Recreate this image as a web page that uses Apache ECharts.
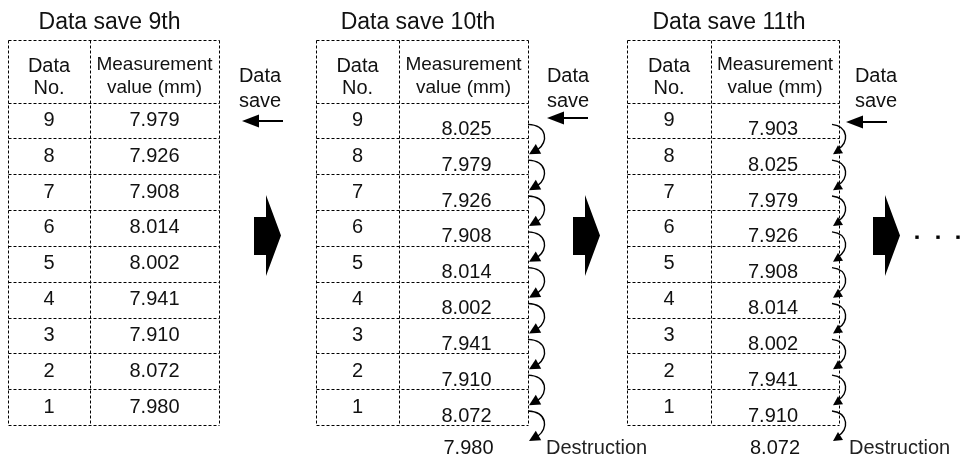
<!DOCTYPE html>
<html>
<head>
<meta charset="utf-8">
<script src="https://cdn.jsdelivr.net/npm/echarts@6/dist/echarts.min.js"></script>
<style>
  html, body { margin: 0; padding: 0; background: #fff; }
  #main { width: 963px; height: 463px; }
</style>
</head>
<body>
<div id="main"></div>
<script>
// values
const tableTitles = ['Data save 9th', 'Data save 10th', 'Data save 11th'];
const dataNos = ['9', '8', '7', '6', '5', '4', '3', '2', '1'];
const values9th = ['7.979', '7.926', '7.908', '8.014', '8.002', '7.941', '7.910', '8.072', '7.980'];
const values10th = ['8.025', '7.979', '7.926', '7.908', '8.014', '8.002', '7.941', '7.910', '8.072'];
const values11th = ['7.903', '8.025', '7.979', '7.926', '7.908', '8.014', '8.002', '7.941', '7.910'];
const destroyed = [null, '7.980', '8.072'];
const headerNo = ['Data', 'No.'];
const headerValue = ['Measurement', 'value (mm)'];
const saveLabel = ['Data', 'save'];
const destroyLabel = 'Destruction';

const FONT = '"Liberation Sans", Arial, Helvetica, sans-serif';
const INK = '#111';
const HEAD_H = 62.5;

const tables = [
    {left: 8, width: 211, split: 82, values: values9th, valDx: 0, valDy: 0, arcs: null,
        saveX: 260, arrow: [242, 283, 121], destDx: 0},
    {left: 316, width: 212, split: 83, values: values10th, valDx: 3, valDy: 9, arcs: 'wide',
        saveX: 568, arrow: [547, 588, 118], destDx: 18},
    {left: 627, width: 212, split: 84, values: values11th, valDx: -2, valDy: 9, arcs: 'narrow',
        saveX: 876, arrow: [846, 887, 122], destDx: 10}
];
const blockArrowX = [254, 573, 873];

const px = v => Math.round(v) + 0.5;

function dashLine(x1, y1, x2, y2) {
    return {
        type: 'line',
        shape: {x1: px(x1), y1: px(y1), x2: px(x2), y2: px(y2)},
        style: {stroke: '#000', lineWidth: 1, lineDash: [3, 2]}
    };
}

function label(text, x, y, size, extra) {
    return {
        type: 'text',
        style: Object.assign({
            text, x, y,
            align: 'center',
            verticalAlign: 'middle',
            fontSize: size,
            fontFamily: FONT,
            fill: INK
        }, extra || {})
    };
}

function arc(kind, R, b) {
    const stroke = {stroke: '#000', lineWidth: 1.4, fill: null};
    if (kind === 'wide') {
        return [
            {type: 'bezierCurve', shape: {x1: R, y1: b - 14, cpx1: R + 20, cpy1: b - 13, cpx2: R + 20, cpy2: b + 4, x2: R + 10, y2: b + 11}, style: stroke},
            {type: 'polygon', shape: {points: [[R + 1, b + 16], [R + 7.8, b + 5.7], [R + 13.2, b + 15.3]]}, style: {fill: '#000'}}
        ];
    }
    return [
        {type: 'bezierCurve', shape: {x1: R - 7, y1: b - 14, cpx1: R + 10, cpy1: b - 12, cpx2: R + 10, cpy2: b + 5, x2: R - 1, y2: b + 11}, style: stroke},
        {type: 'polygon', shape: {points: [[R - 1, b + 7], [R - 6, b + 16], [R + 4, b + 15]]}, style: {fill: '#000'}}
    ];
}

function renderTable(t, ti) {
    return function (params, api) {
        const r = params.dataIndex;
        const cs = params.coordSys;
        const left = cs.x, right = cs.x + cs.width;
        const pt = api.coord([t.split, r]);
        const splitX = pt[0], cy = pt[1];
        const h = api.size([0, 1])[1];
        const bottom = cy + h / 2;
        const kids = [];

        kids.push(dashLine(left, bottom, right, bottom));
        kids.push(label(dataNos[r], (left + splitX) / 2, cy, 20));
        kids.push(label(t.values[r], (splitX + right) / 2 + t.valDx, cy + t.valDy, 20));

        if (r === 0) {
            const top = cs.y - HEAD_H;
            kids.push(dashLine(left, top, right, top));
            kids.push(dashLine(left, cs.y, right, cs.y));
            [left, splitX, right].forEach(x => kids.push(dashLine(x, top, x, cs.y + cs.height)));
            kids.push(label(headerNo[0], (left + splitX) / 2, top + 26, 20));
            kids.push(label(headerNo[1], (left + splitX) / 2, top + 48, 20));
            kids.push(label(headerValue[0], (splitX + right) / 2, top + 25, 19));
            kids.push(label(headerValue[1], (splitX + right) / 2, top + 48, 19));
            kids.push(label(tableTitles[ti], (left + right) / 2 - 4, 23, 23));
            kids.push(label(saveLabel[0], t.saveX, 76, 20));
            kids.push(label(saveLabel[1], t.saveX, 101, 20));
            const [ax0, ax1, ay] = t.arrow;
            kids.push({type: 'line', shape: {x1: ax0 + 10, y1: ay, x2: ax1, y2: ay}, style: {stroke: '#000', lineWidth: 2}});
            kids.push({type: 'polygon', shape: {points: [[ax0, ay], [ax0 + 17, ay - 6.5], [ax0 + 17, ay + 6.5]]}, style: {fill: '#000'}});
        }
        if (t.arcs) {
            kids.push(...arc(t.arcs, right, bottom));
        }
        if (r === dataNos.length - 1 && destroyed[ti]) {
            kids.push(label(destroyed[ti], (splitX + right) / 2 + t.valDx + 2, cy + h + t.valDy - 3, 20));
            kids.push(label(destroyLabel, right + t.destDx, cy + h + 6, 20, {align: 'left', fill: '#222'}));
        }
        return {type: 'group', children: kids};
    };
}

const chart = echarts.init(document.getElementById('main'), null, {renderer: 'canvas'});

const grid = [], xAxis = [], yAxis = [], series = [];
tables.forEach((t, i) => {
    grid.push({left: t.left, top: 102.5, width: t.width, height: 322.5});
    xAxis.push({gridIndex: i, type: 'value', min: 0, max: t.width, show: false});
    yAxis.push({gridIndex: i, type: 'category', data: dataNos, inverse: true, show: false});
    series.push({
        type: 'custom',
        xAxisIndex: i,
        yAxisIndex: i,
        clip: false,
        silent: true,
        renderItem: renderTable(t, i),
        data: t.values.map((v, r) => [0, r])
    });
});

const graphic = [];
blockArrowX.forEach(x => {
    graphic.push({
        type: 'polygon',
        shape: {points: [[x, 217], [x + 12, 217], [x + 12, 195], [x + 27, 235.5], [x + 12, 276], [x + 12, 255], [x, 255]]},
        style: {fill: '#000'}
    });
});
[917, 938, 958].forEach(x => {
    graphic.push({type: 'rect', shape: {x: x - 1.7, y: 235.5, width: 3.4, height: 3.4}, style: {fill: '#000'}});
});

chart.setOption({
    animation: false,
    backgroundColor: '#fff',
    grid,
    xAxis,
    yAxis,
    series,
    graphic
});
</script>
</body>
</html>
